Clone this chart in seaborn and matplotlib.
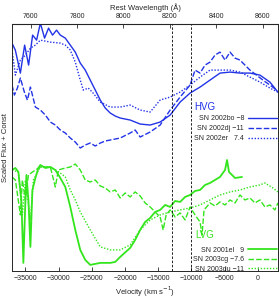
import numpy as np
import matplotlib
matplotlib.use('Agg')
import matplotlib.pyplot as plt
import seaborn as sns

# Ca II IR triplet spectra in velocity space
# blue = HVG, green = LVG

v_02bo = [-37000, -36500, -35740, -35100, -34500, -33900, -33300, -32730, -32100, -31500,
          -30900, -30300, -29730, -28980, -28230, -27480, -26730, -25980, -25230, -24470,
          -23720, -22970, -22220, -21470, -20720, -19220, -17720, -16220, -14710, -13210,
          -11710, -10210, -8710, -7210, -5710, -4200, -2700, -1200, 300, 1800, 3000]
f_02bo = [2.28, 2.21, 1.98, 2.26, 2.06, 2.36, 2.31, 2.48, 2.33, 2.43,
          2.36, 2.41, 2.36, 2.33, 2.26, 2.19, 2.08, 2.01, 1.91, 1.81,
          1.71, 1.63, 1.58, 1.55, 1.53, 1.51, 1.47, 1.46, 1.49, 1.56,
          1.69, 1.78, 1.84, 1.91, 1.98, 1.99, 1.98, 1.98, 1.96, 1.89, 1.79]

v_02dj = [-37000, -36640, -36190, -35740, -35140, -34680, -34230, -33480, -32730, -31980,
          -31230, -30480, -29730, -28980, -28230, -27480, -26730, -25980, -25230, -24470,
          -23720, -22970, -22220, -20720, -19220, -18470, -17720, -16220, -14710, -13210,
          -11710, -10210, -9460, -8710, -7960, -7210, -6460, -5710, -4950, -4200,
          -3450, -2700, -1200, 750, 2850]
f_02dj = [1.86, 1.76, 1.83, 1.93, 1.79, 1.71, 1.84, 1.64, 1.61, 1.56,
          1.49, 1.46, 1.41, 1.38, 1.33, 1.29, 1.23, 1.26, 1.28, 1.25,
          1.28, 1.30, 1.31, 1.33, 1.38, 1.41, 1.34, 1.39, 1.46, 1.61,
          1.74, 1.86, 2.01, 1.98, 2.06, 2.09, 2.16, 2.19, 2.11, 2.19,
          2.13, 2.11, 2.01, 1.91, 1.81]

v_02er = [-37000, -36490, -35740, -34980, -34230, -33480, -32730, -31230, -29730, -28980,
          -28230, -27480, -26730, -26280, -25530, -24920, -23720, -22220, -20720, -19220,
          -17720, -16220, -14710, -13210, -11710, -10210, -8710, -7210, -5710, -4200,
          -2700, -1200, 300, 1800, 3000]
f_02er = [2.21, 1.96, 2.11, 2.16, 2.23, 2.26, 2.31, 2.29, 2.28, 2.26,
          2.21, 2.09, 1.91, 1.81, 1.83, 1.79, 1.69, 1.64, 1.64, 1.66,
          1.61, 1.59, 1.71, 1.74, 1.79, 1.86, 1.94, 2.01, 2.01, 2.01,
          1.99, 1.94, 1.89, 1.83, 1.79]

v_01el = [-37000, -36490, -36040, -35590, -35290, -34980, -34830, -34530, -34230, -33930,
          -33480, -33030, -32730, -31980, -31230, -30480, -29730, -28980, -28230, -27480,
          -26730, -25980, -25230, -23720, -22220, -21470, -20720, -19220, -18470, -17720,
          -16970, -16220, -15470, -14710, -13960, -13210, -12460, -11710, -10960, -10210,
          -9460, -8710, -7960, -7210, -6460, -5710, -4950, -4650, -4350, -3450, -2400]
f_01el = [1.01, 1.03, 0.99, 0.71, 0.08, 0.71, 0.96, 0.71, 0.24, 0.81,
          0.93, 1.03, 1.06, 1.03, 1.04, 1.01, 0.93, 0.84, 0.64, 0.41,
          0.21, 0.11, 0.06, 0.08, 0.08, 0.09, 0.14, 0.23, 0.31, 0.41,
          0.49, 0.53, 0.59, 0.61, 0.66, 0.64, 0.70, 0.69, 0.74, 0.76,
          0.80, 0.81, 0.86, 0.88, 0.91, 0.94, 1.01, 1.11, 0.99, 0.93, 0.94]

v_03cg = [-37000, -36490, -35740, -35440, -34980, -34530, -33480, -32730, -31230, -30480,
          -30030, -28980, -28230, -27480, -26730, -25980, -25230, -24470, -23720, -22970,
          -22220, -21470, -20720, -19970, -19220, -18470, -17720, -16970, -16220, -15470,
          -14710, -14260, -13810, -13210, -12460, -11710, -10960, -10210, -9460, -8710,
          -8410, -8110, -7210, -6460, -5710, -4950, -4200, -3450, -2700, -1950,
          -1200, -450, 300, 1050, 1800, 2550, 3000]
f_03cg = [0.94, 0.91, 0.56, 0.91, 0.71, 0.96, 1.01, 1.04, 1.04, 0.84,
          1.01, 1.03, 1.04, 1.07, 1.01, 0.91, 0.89, 0.91, 0.85, 0.83,
          0.79, 0.81, 0.73, 0.78, 0.74, 0.79, 0.75, 0.68, 0.64, 0.59,
          0.54, 0.41, 0.56, 0.61, 0.54, 0.58, 0.51, 0.64, 0.56, 0.49,
          0.36, 0.61, 0.68, 0.65, 0.69, 0.66, 0.71, 0.68, 0.76, 0.71,
          0.73, 0.68, 0.71, 0.64, 0.66, 0.61, 0.68]

v_03du = [-37000, -36040, -35440, -34980, -34230, -33780, -32730, -31230, -29730, -28980,
          -28230, -27480, -26730, -25230, -23720, -22220, -20720, -19220, -17720, -16220,
          -14710, -13210, -11710, -10210, -8710, -7210, -5710, -4200, -2700, -1200,
          300, 1050, 2250, 3000]
f_03du = [1.01, 0.99, 0.56, 0.91, 0.51, 0.91, 1.04, 1.04, 0.98, 0.94,
          0.81, 0.71, 0.59, 0.41, 0.24, 0.21, 0.21, 0.26, 0.41, 0.51,
          0.56, 0.59, 0.61, 0.63, 0.66, 0.71, 0.76, 0.79, 0.81, 0.84,
          0.86, 0.88, 0.83, 0.79]

hvg_labels = ['SN 2002bo \u22128', 'SN 2002dj \u221211', 'SN 2002er   7.4']
lvg_labels = ['SN 2001el   9', 'SN 2003cg \u22127.6', 'SN 2003du \u221211']
vlines = [-13000, -10000]
vel_ticks = [-35000, -30000, -25000, -20000, -15000, -10000, -5000, 0]
wave_ticks = [7600, 7800, 8000, 8200, 8400, 8600]

blue = '#2233e6'
green = '#33e51c'
c_kms = 299792.458
lam0 = 8579.0

sns.set_style('ticks')
plt.rcParams['font.family'] = ['Liberation Sans', 'DejaVu Sans']

fig = plt.figure(figsize=(2.79, 2.98), dpi=100)
ax = fig.add_axes([0.043, 0.091, 0.953, 0.828])

lw = 1.0
sns.lineplot(x=v_02bo, y=f_02bo, ax=ax, color=blue, lw=lw, sort=False)
sns.lineplot(x=v_02dj, y=f_02dj, ax=ax, color=blue, lw=lw, ls=(0, (4, 1.5)), sort=False)
sns.lineplot(x=v_02er, y=f_02er, ax=ax, color=blue, lw=lw, ls=(0, (1, 1.2)), sort=False)
sns.lineplot(x=v_01el, y=f_01el, ax=ax, color=green, lw=1.3, sort=False)
sns.lineplot(x=v_03cg, y=f_03cg, ax=ax, color=green, lw=lw, ls=(0, (4, 1.5)), sort=False)
sns.lineplot(x=v_03du, y=f_03du, ax=ax, color=green, lw=lw, ls=(0, (1, 1.2)), sort=False)

for v in vlines:
    ax.axvline(v, color='k', lw=0.6, ls=(0, (3, 2)))

lines = ax.get_lines()
leg1 = ax.legend(lines[0:3], hvg_labels, loc='upper right', bbox_to_anchor=(0.998, 0.630),
                 frameon=False, markerfirst=False, fontsize=5, handlelength=4.2,
                 labelspacing=0.4, borderpad=0, borderaxespad=0, handletextpad=0.6)
ax.add_artist(leg1)
ax.legend(lines[3:6], lvg_labels, loc='upper right', bbox_to_anchor=(0.998, 0.098),
          frameon=False, markerfirst=False, fontsize=5, handlelength=4.2,
          labelspacing=0.35, borderpad=0, borderaxespad=0, handletextpad=0.6)
ax.text(0.726, 0.664, 'HVG', color=blue, fontsize=7, ha='center', va='center',
        transform=ax.transAxes)
ax.text(0.726, 0.146, 'LVG', color=green, fontsize=7, ha='center', va='center',
        transform=ax.transAxes)

ax.set_xlim(-37000, 3000)
ax.set_ylim(0, 2.47)
ax.set_xticks(vel_ticks)
ax.set_xticklabels([f'{t:d}'.replace('-', '\u2212') for t in vel_ticks])
ax.set_yticks([])
ax.tick_params(axis='x', direction='in', length=3, width=0.6, labelsize=5, pad=3)
ax.set_xlabel('Velocity (km s$^{-1}$)', fontsize=5.5, labelpad=2)
ax.set_ylabel('Scaled Flux + Const', fontsize=5.5, labelpad=2)
for s in ax.spines.values():
    s.set_linewidth(0.7)

sec = ax.secondary_xaxis('top', functions=(lambda v: lam0 * (1 + v / c_kms),
                                           lambda w: (w / lam0 - 1) * c_kms))
sec.set_xticks(wave_ticks)
sec.tick_params(direction='in', length=3, width=0.6, labelsize=5, pad=3)
sec.set_xlabel('Rest Wavelength (\u00c5)', fontsize=5.5, labelpad=2)

fig.savefig('out.png', dpi=100)
